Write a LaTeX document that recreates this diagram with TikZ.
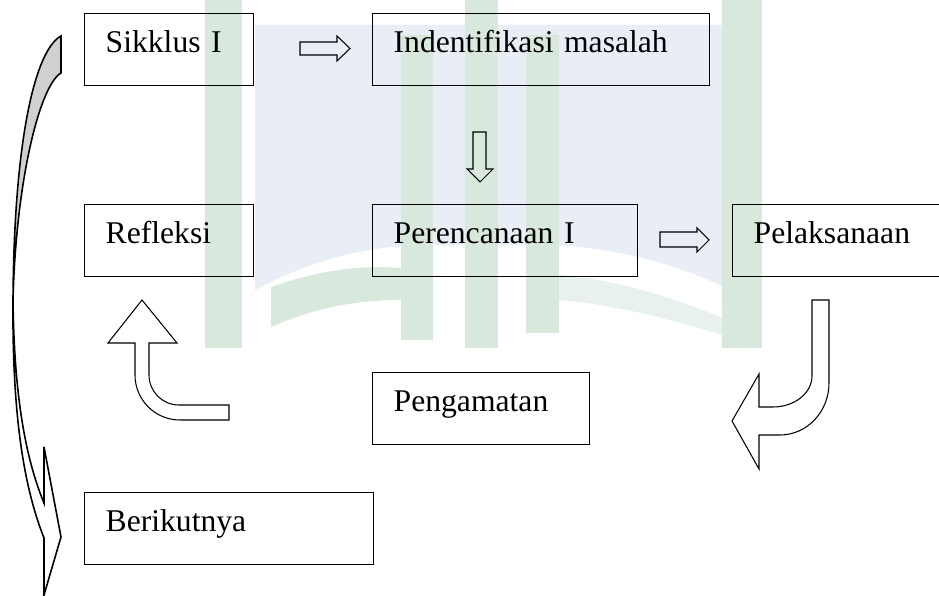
\documentclass[tikz,border=0pt]{standalone}
\usepackage{fontspec}
\setmainfont{Liberation Serif}
\definecolor{wmgreen}{RGB}{216,232,221}
\definecolor{wmgreenlight}{RGB}{232,241,235}
\definecolor{wmblue}{RGB}{233,237,245}
\definecolor{backgray}{RGB}{208,208,208}
\tikzset{
    box/.style={draw, line width=0.8pt, anchor=north west, inner xsep=4.2mm, inner ysep=0pt,
        text width=#1, align=left, minimum height=14.4mm, text height=4.4mm, text depth=3.2mm,
        font=\fontsize{18}{22}\selectfont},
    blockarrow/.style={draw, line width=0.6pt, line join=miter},
}

\begin{document}
\begin{tikzpicture}[x=0.2mm, y=-0.2mm]
    \useasboundingbox (0,0) rectangle (939,596);
    \clip (0,0) rectangle (939,596);

    % watermark behind the diagram
    \fill[wmblue] (255,25) -- (255,290) .. controls (320,255) and (380,245) .. (430,245) -- (540,245) .. controls (600,245) and (670,260) .. (730,290) -- (730,25) -- cycle;
    \foreach \xa/\ya/\xb/\yb in {205/0/242/348, 401/35/433/340, 465/0/498/348, 526/35/559/333, 722/0/762/348}
        \fill[wmgreen] (\xa,\ya) rectangle (\xb,\yb);
    \fill[wmgreen] (271,287) .. controls (320,270) and (360,265) .. (401,268) -- (401,300) .. controls (350,300) and (310,310) .. (271,327) -- cycle;
    \fill[wmgreenlight] (559,275) .. controls (620,280) and (680,300) .. (722,318) -- (722,335) .. controls (680,322) and (620,305) .. (559,300) -- cycle;

    \node[box=25.4mm] (sik)  at (84,13)   {Sikklus I};
    \node[box=59mm]   (ind)  at (372,13)  {Indentifikasi masalah};
    \node[box=25.4mm] (ref)  at (84,204)  {Refleksi};
    \node[box=44.6mm] (ren)  at (372,204) {Perencanaan I};
    \node[box=37.2mm] (pel)  at (732,204) {Pelaksanaan};
    \node[box=35mm]   (amat) at (372,372) {Pengamatan};
    \node[box=49.4mm] (brk)  at (84,492)  {Berikutnya};

    % straight block arrows
    \draw[blockarrow] (300,42) -- (337,42) -- (337,36) -- (350,48.5) -- (337,61) -- (337,55) -- (300,55) -- cycle;
    \draw[blockarrow] (473,132) -- (486,132) -- (486,169) -- (493,169) -- (480,182) -- (467,169) -- (473,169) -- cycle;
    \draw[blockarrow] (660,232) -- (697,232) -- (697,228) -- (709,240) -- (697,252) -- (697,247) -- (660,247) -- cycle;

    % bent block arrows
    \draw[blockarrow] (812,300) -- (829,300) -- (829,383) .. controls (829,411.7) and (807,435) .. (780,435) -- (759,435) -- (759,469) -- (732,421) -- (759,374) -- (759,407) -- (773,407) .. controls (794.5,407) and (812,393.1) .. (812,376) -- cycle;
    \draw[blockarrow] (142,300) -- (177,343) -- (149,343) -- (149,375) .. controls (149,391.6) and (162.4,405) .. (179,405) -- (229,405) -- (229,420) -- (180,420) .. controls (155.1,420) and (135,399.9) .. (135,375) -- (135,343) -- (108,343) -- cycle;

    % long curved arrow
    \draw[line width=0.9pt, fill=backgray] (61,36) .. controls (35,50) and (14,140) .. (13,300) .. controls (16,180) and (40,85) .. (61,73) -- cycle;
    \draw[line width=0.9pt, line join=miter] (13,300) .. controls (12,420) and (25,490) .. (44,538) -- (44,595) -- (61,537) -- (44,447) -- (44,503) .. controls (22,450) and (14,380) .. (13,300) -- cycle;
\end{tikzpicture}
\end{document}
